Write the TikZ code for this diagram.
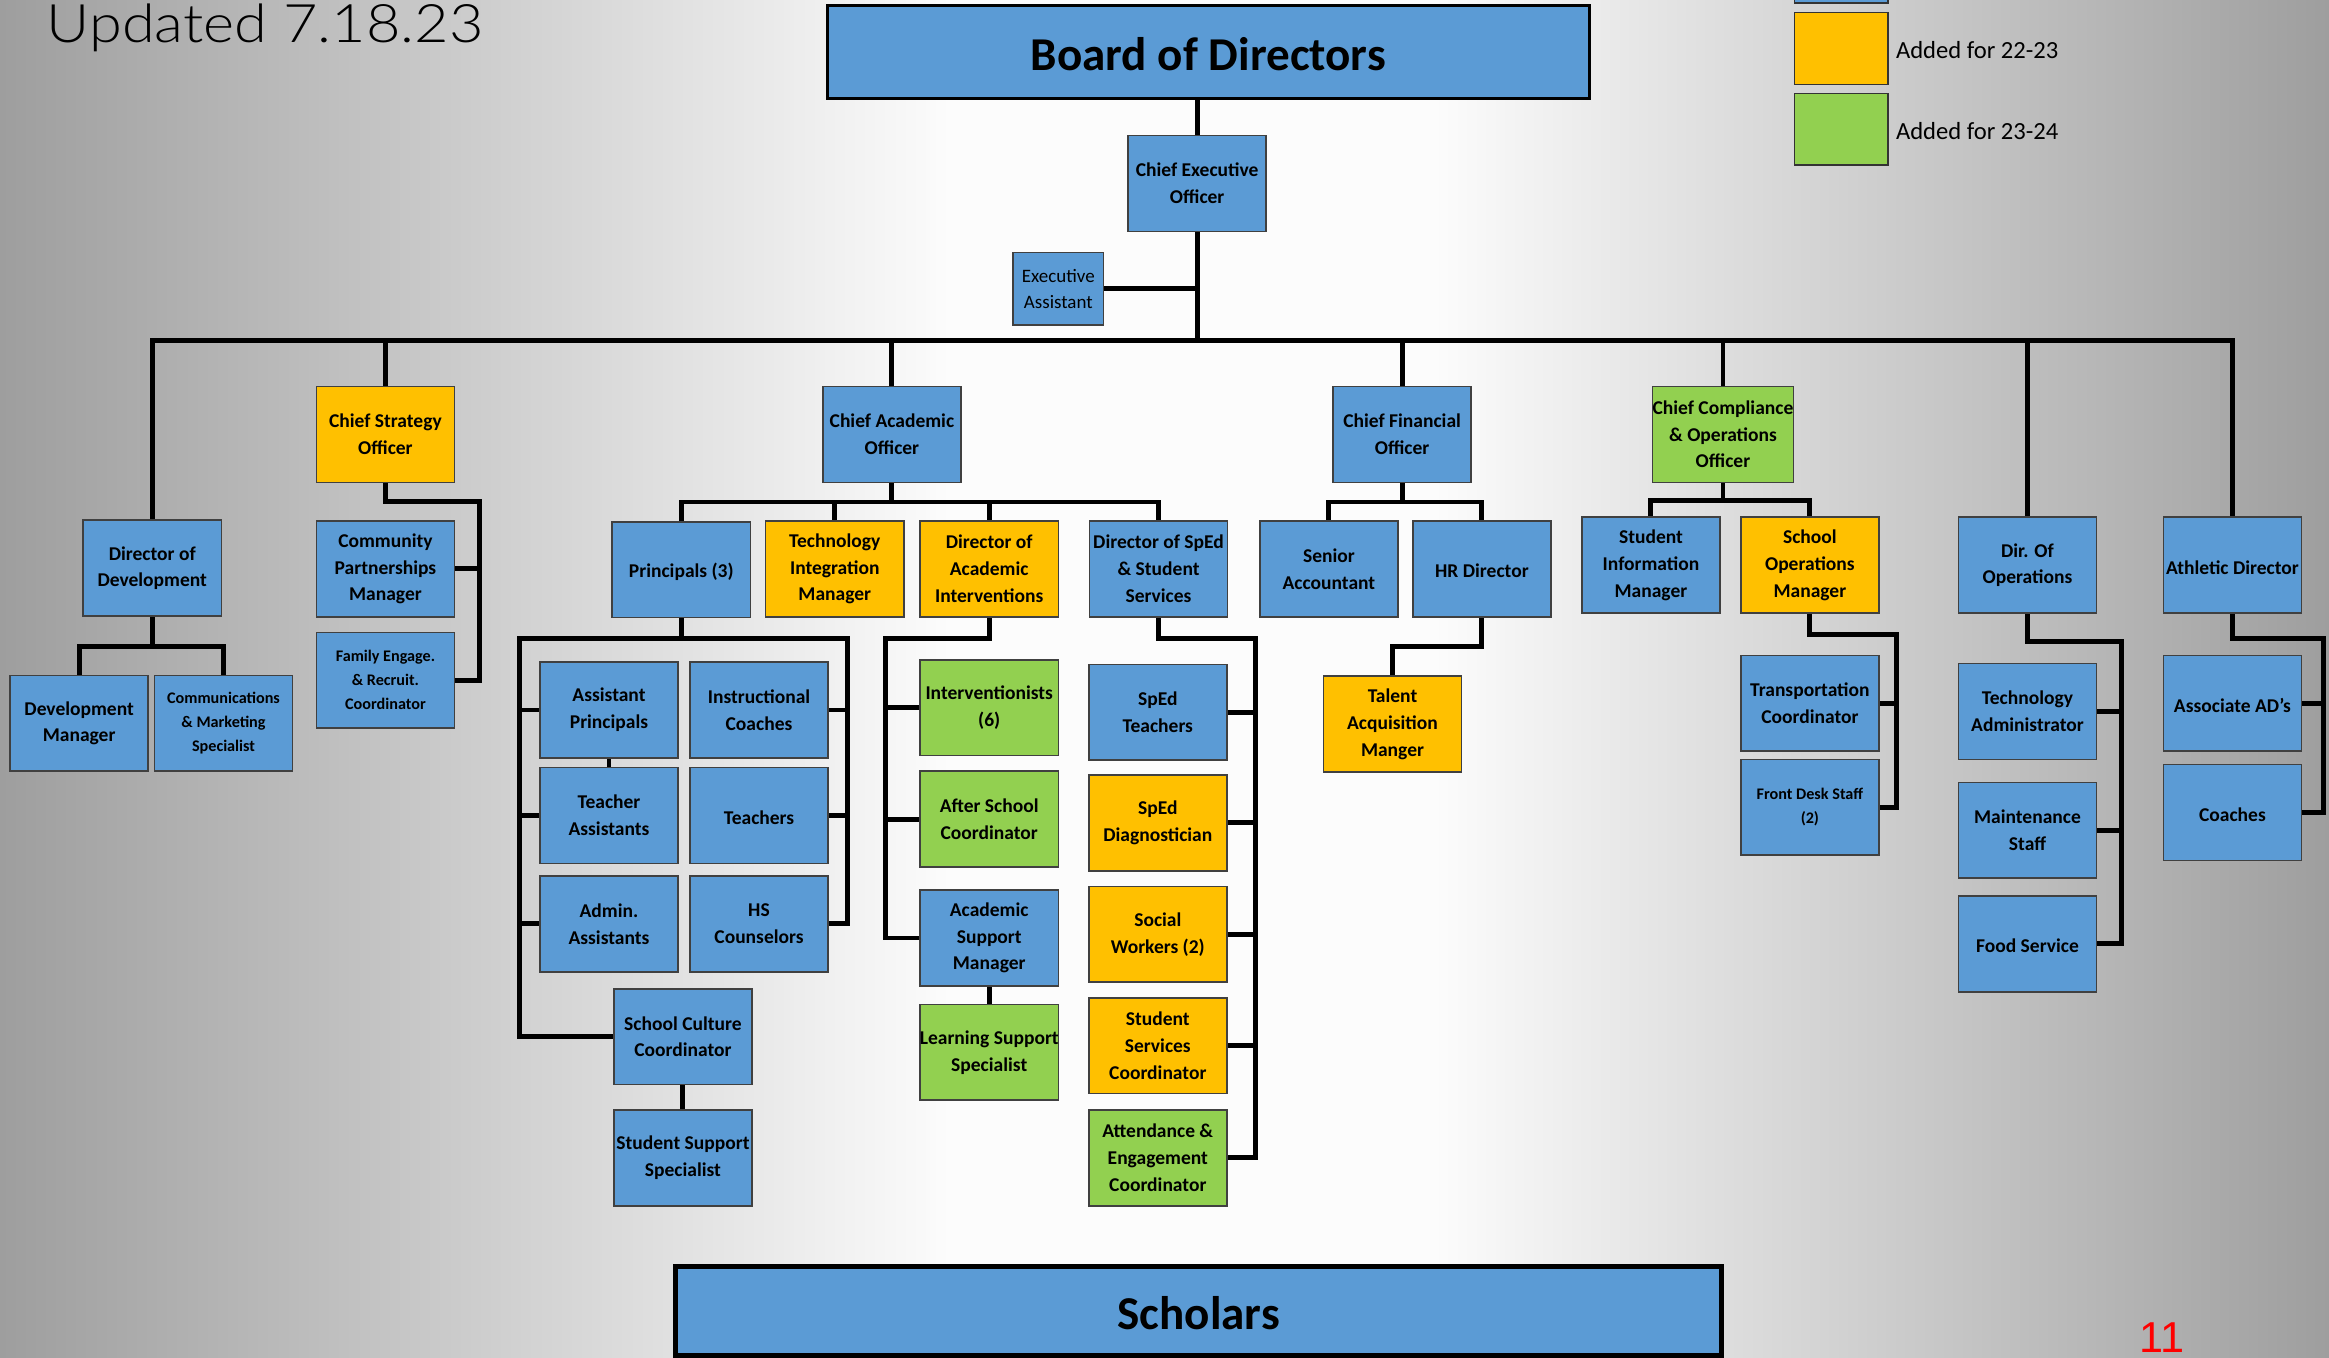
\documentclass[tikz,border=0pt]{standalone}
\usepackage{fontspec}
\setmainfont{Carlito}
\IfFontExistsTF{Lato Light}{\newfontfamily\latofont{Lato Light}}{\newfontfamily\latofont{Lato}}
\newfontfamily\arialfont{Liberation Sans}
\usetikzlibrary{calc}
\definecolor{cblue}{HTML}{5B9BD5}
\definecolor{cyel}{HTML}{FFC000}
\definecolor{cgrn}{HTML}{92D050}
\definecolor{bggray}{RGB}{158,158,158}
\definecolor{bgwhite}{RGB}{252,252,252}
\def\pxu{0.014853cm}
\pgfdeclarelayer{back}
\pgfdeclarelayer{lines}
\pgfsetlayers{back,lines,main}
\tikzset{
  box/.style={draw=black!75, line width=0.45pt, fill=cblue, minimum width=93*\pxu,
    minimum height=64.5*\pxu, inner sep=0pt, align=center,
    execute at begin node={\rule{0pt}{5.1pt}},
    font=\bfseries\fontsize{5.55}{7.6}\selectfont},
  yel/.style={box, fill=cyel},
  grn/.style={box, fill=cgrn},
  smalltxt/.style={font=\bfseries\fontsize{4.6}{6.8}\selectfont},
  bigbox/.style={box, draw=black, execute at begin node={\rule{0pt}{10.9pt}},
    font=\bfseries\fontsize{13.4}{16}\selectfont},
  legbox/.style={draw=black!80, line width=0.4pt, minimum width=63*\pxu, inner sep=0pt},
  conn/.style={line width=1.4pt, line join=miter},
}
\begin{document}
\begin{tikzpicture}[x=0.014853cm, y=-0.014853cm]
\useasboundingbox (0,0) rectangle (1568,914);
\begin{pgfonlayer}{back}
  \fill[bgwhite] (0,0) rectangle (1568,914);
  \shade[left color=bggray, right color=bgwhite] (0,0) rectangle (640,914);
  \shade[left color=bgwhite, right color=bggray] (965,0) rectangle (1568,914);
\end{pgfonlayer}

% title and page number
\node[anchor=base west, inner sep=0pt, font=\latofont\fontsize{15.1}{18}\selectfont] (title) at (31,28.5) {\scalebox{1.12}[1]{Updated 7.18.23}};
\node[anchor=base west, inner sep=0pt, text=red, font=\arialfont\fontsize{12.3}{14}\selectfont] (pageno) at (1440,910.5) {11};

% legend
\node[legbox, fill=cblue, minimum height=12*\pxu] (lblue) at (1239.5,-4) {};
\node[legbox, fill=cyel, minimum height=48.5*\pxu] (lyel) at (1239.5,32.75) {};
\node[legbox, fill=cgrn, minimum height=48*\pxu] (lgrn) at (1239.5,87) {};
\node[anchor=west, inner sep=0pt, font=\fontsize{7}{8.5}\selectfont] (t2223) at (1276,33.5) {Added for 22-23};
\node[anchor=west, inner sep=0pt, font=\fontsize{7}{8.5}\selectfont] (t2324) at (1276,88) {Added for 23-24};

% top
\node[bigbox, line width=0.85pt, minimum width=513*\pxu, minimum height=62*\pxu] (board) at (813.5,35) {Board of Directors};
\node[box] (ceo) at (806,123.5) {Chief Executive\\Officer};
\node[box, minimum width=61*\pxu, minimum height=49*\pxu, font=\fontsize{5.4}{7.6}\selectfont] (ea) at (712.5,194.5) {Executive\\Assistant};

% level 2
\node[yel] (cso) at (259.5,292.5) {Chief Strategy\\Officer};
\node[box] (cao) at (600.5,292.5) {Chief Academic\\Officer};
\node[box] (cfo) at (944,292.5) {Chief Financial\\Officer};
\node[grn] (cco) at (1160,292.5) {Chief Compliance\\\& Operations\\Officer};
\node[box] (dod) at (102.5,382.5) {Director of\\Development};
\node[box] (dops) at (1365,380.5) {Dir. Of\\Operations};
\node[box] (ad) at (1503,380.5) {Athletic Director};

% development
\node[box] (dm) at (53.3,487) {Development\\Manager};
\node[box, smalltxt] (cms) at (150.5,487) {Communications\\\& Marketing\\Specialist};

% strategy
\node[box] (cpm) at (259.5,383) {Community\\Partnerships\\Manager};
\node[box, smalltxt] (fam) at (259.5,458) {Family Engage.\\\& Recruit.\\Coordinator};

% academic
\node[box] (prin) at (458.7,383.5) {Principals (3)};
\node[yel] (tim) at (562,383) {Technology\\Integration\\Manager};
\node[yel] (dai) at (666,383) {Director of\\Academic\\Interventions};
\node[box] (sped) at (780,383) {Director of SpEd\\\& Student\\Services};

\node[box] (ap) at (410,478) {Assistant\\Principals};
\node[box] (ic) at (511,478) {Instructional\\Coaches};
\node[box] (ta) at (410,549) {Teacher\\Assistants};
\node[box] (tch) at (511,549) {Teachers};
\node[box] (aa) at (410,622) {Admin.\\Assistants};
\node[box] (hsc) at (511,622) {HS\\Counselors};
\node[box] (scc) at (459.8,698) {School Culture\\Coordinator};
\node[box] (sss) at (459.8,779.5) {Student Support\\Specialist};

\node[grn] (int) at (666,476.5) {Interventionists\\(6)};
\node[grn] (asc) at (666,551.5) {After School\\Coordinator};
\node[box] (asm) at (666,631.5) {Academic\\Support\\Manager};
\node[grn] (lss) at (666,708.5) {Learning Support\\Specialist};

\node[box] (spt) at (779.5,479.5) {SpEd\\Teachers};
\node[yel] (spd) at (779.5,554) {SpEd\\Diagnostician};
\node[yel] (sw) at (779.5,629) {Social\\Workers (2)};
\node[yel] (ssc) at (779.5,704) {Student\\Services\\Coordinator};
\node[grn] (aec) at (779.5,779.5) {Attendance \&\\Engagement\\Coordinator};

% finance
\node[box] (sa) at (894.7,383) {Senior\\Accountant};
\node[box] (hr) at (997.7,383) {HR Director};
\node[yel] (tam) at (937.5,487.5) {Talent\\Acquisition\\Manger};

% compliance
\node[box] (sim) at (1111.5,380.5) {Student\\Information\\Manager};
\node[yel] (som) at (1218.5,380.5) {School\\Operations\\Manager};
\node[box] (tc) at (1218.5,473.5) {Transportation\\Coordinator};
\node[box, smalltxt] (fds) at (1218.5,543.5) {Front Desk Staff\\(2)};

% operations
\node[box] (techa) at (1365,479) {Technology\\Administrator};
\node[box] (maint) at (1365,559) {Maintenance\\Staff};
\node[box] (food) at (1365,635.5) {Food Service};

% athletics
\node[box] (aad) at (1503,473.5) {Associate AD’s};
\node[box] (coach) at (1503,547) {Coaches};

% scholars
\node[bigbox, line width=1.5pt, minimum width=704*\pxu, minimum height=60*\pxu] (sch) at (807,882.5) {Scholars};

\begin{pgfonlayer}{lines}
  \coordinate (bus) at (805,229);
  \draw[conn] (ceo.north) -- (ceo.north |- board.south);
  \draw[conn] (ceo.south) -- (ceo.south |- bus);
  \draw[conn] (ea.east) -- (ea.east -| ceo.south);
  \draw[conn] (dod.north) -- (dod.north |- bus) -- (ad.north |- bus) -- (ad.north);
  \foreach \n in {cso,cao,cfo,cco,dops} \draw[conn] (\n.north) -- (\n.north |- bus);

  % development
  \coordinate (dodB) at (0,435);
  \draw[conn] (dod.south) -- (dod.south |- dodB);
  \draw[conn] (dm.north) -- (dm.north |- dodB) -- (cms.north |- dodB) -- (cms.north);

  % strategy
  \coordinate (cR) at (323,337.5);
  \draw[conn] (cso.south) |- (cR) |- (fam.east);
  \draw[conn] (cpm.east) -- (cpm.east -| cR);

  % academic
  \coordinate (caoB) at (0,338);
  \draw[conn] (cao.south) -- (cao.south |- caoB);
  \draw[conn] (prin.north) -- (prin.north |- caoB) -- (sped.north |- caoB) -- (sped.north);
  \foreach \n in {tim,dai} \draw[conn] (\n.north) -- (\n.north |- caoB);

  \coordinate (pL) at (350,430);
  \coordinate (pR) at (570.5,430);
  \draw[conn] (prin.south) -- (prin.south |- pL);
  \draw[conn] (scc.west) -| (pL) -- (pR) |- (hsc.east);
  \foreach \n in {ap,ta,aa} \draw[conn] (\n.west) -- (\n.west -| pL);
  \foreach \n in {ic,tch} \draw[conn] (\n.east) -- (\n.east -| pR);
  \draw[conn] (ap.south) -- (ta.north);
  \draw[conn] (scc.south) -- (sss.north);

  \coordinate (dL) at (596,430);
  \draw[conn] (dai.south) |- (dL) |- (asm.west);
  \foreach \n in {int,asc} \draw[conn] (\n.west) -- (\n.west -| dL);
  \draw[conn] (asm.south) -- (lss.north);

  \coordinate (sR) at (845,430);
  \draw[conn] (sped.south) |- (sR) |- (aec.east);
  \foreach \n in {spt,spd,sw,ssc} \draw[conn] (\n.east) -- (\n.east -| sR);

  % finance
  \coordinate (cfoB) at (0,338);
  \draw[conn] (cfo.south) -- (cfo.south |- cfoB);
  \draw[conn] (sa.north) -- (sa.north |- cfoB) -- (hr.north |- cfoB) -- (hr.north);
  \coordinate (hrB) at (0,435);
  \draw[conn] (hr.south) -- (hr.south |- hrB) -| (tam.north);

  % compliance
  \coordinate (ccoB) at (0,337);
  \draw[conn] (cco.south) -- (cco.south |- ccoB);
  \draw[conn] (sim.north) -- (sim.north |- ccoB) -- (som.north |- ccoB) -- (som.north);
  \coordinate (soR) at (1277,427);
  \draw[conn] (som.south) |- (soR) |- (fds.east);
  \draw[conn] (tc.east) -- (tc.east -| soR);

  % operations
  \coordinate (doR) at (1428,432);
  \draw[conn] (dops.south) |- (doR) |- (food.east);
  \foreach \n in {techa,maint} \draw[conn] (\n.east) -- (\n.east -| doR);

  % athletics
  \coordinate (adR) at (1564,430);
  \draw[conn] (ad.south) |- (adR) |- (coach.east);
  \draw[conn] (aad.east) -- (aad.east -| adR);
\end{pgfonlayer}
\end{tikzpicture}
\end{document}
